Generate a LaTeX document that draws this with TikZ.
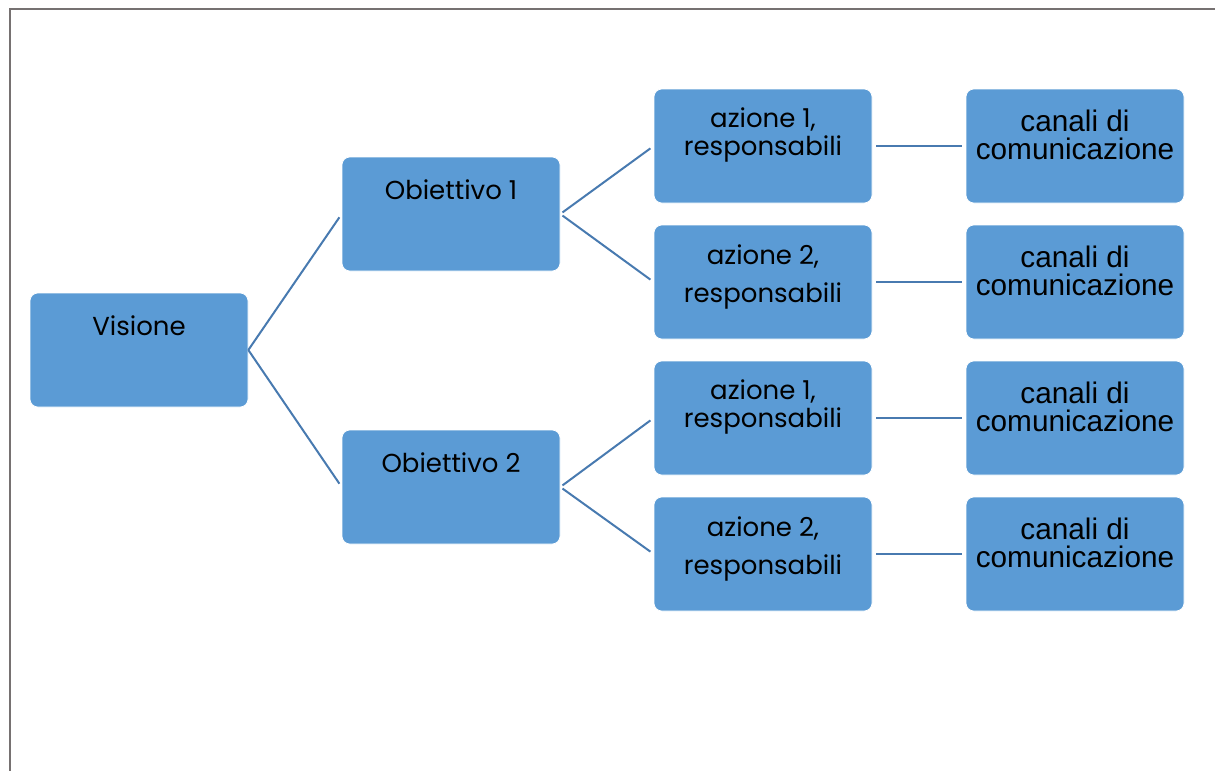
\documentclass[tikz,border=0pt]{standalone}
\usepackage{fontspec}
\setmainfont{Poppins}
\newfontfamily\arialfont{Liberation Sans}
\usepackage{xcolor}
\definecolor{boxblue}{RGB}{91,155,213}
\definecolor{linkblue}{RGB}{72,122,176}
\definecolor{framegray}{RGB}{118,113,113}

\begin{document}
\begin{tikzpicture}[x=0.75pt,y=-0.75pt,
	box/.style={draw=white,line width=0.5pt,fill=boxblue,rounded corners=6pt,
		minimum width=163.5pt,minimum height=85.5pt,inner sep=0pt},
	txt/.style={align=center,inner sep=0pt,font=\fontsize{19.5}{21}\selectfont},
	ctxt/.style={align=center,inner sep=0pt,font=\arialfont\fontsize{22.3}{21}\selectfont},
	link/.style={draw=linkblue,line width=1.5pt,shorten >=3pt}]
			\useasboundingbox (0,0) rectangle (1215,771);
			\draw[framegray,line width=1.5pt] (10,771) -- (10,9) -- (1215,9);
			% vision and goals
			\node[box] (vis) at (139,350) {};
			\node[txt] (visT) at (139,326) {Visione};
			\node[box] (ob1) at (451,214) {};
			\node[txt] (ob1T) at (451,190) {Obiettivo 1};
			\node[box] (ob2) at (451,487) {};
			\node[txt] (ob2T) at (451,463) {Obiettivo 2};
			\draw[link] (vis.east) -- (ob1.west);
			\draw[link] (vis.east) -- (ob2.west);
			% actions and channels
			\foreach \r/\y/\n/\gap/\dy/\g in {1/146/1/0pt/11/ob1,2/282/2/8pt/5/ob1,3/418/1/0pt/11/ob2,4/554/2/8pt/5/ob2}{
				\node[box] (az\r) at (763,\y) {};
				\node[txt] (az\r T) at (763,\y-\dy) {azione \n,\\[\gap]responsabili};
				\node[box] (ca\r) at (1075,\y) {};
				\node[ctxt] (ca\r T) at (1075,\y-11) {canali di\\comunicazione};
				\draw[link,shorten <=2pt] (\g.east) -- (az\r.west);
				\draw[link,shorten <=3pt] (az\r.east) -- (ca\r.west);
			}
		\end{tikzpicture}
\end{document}
